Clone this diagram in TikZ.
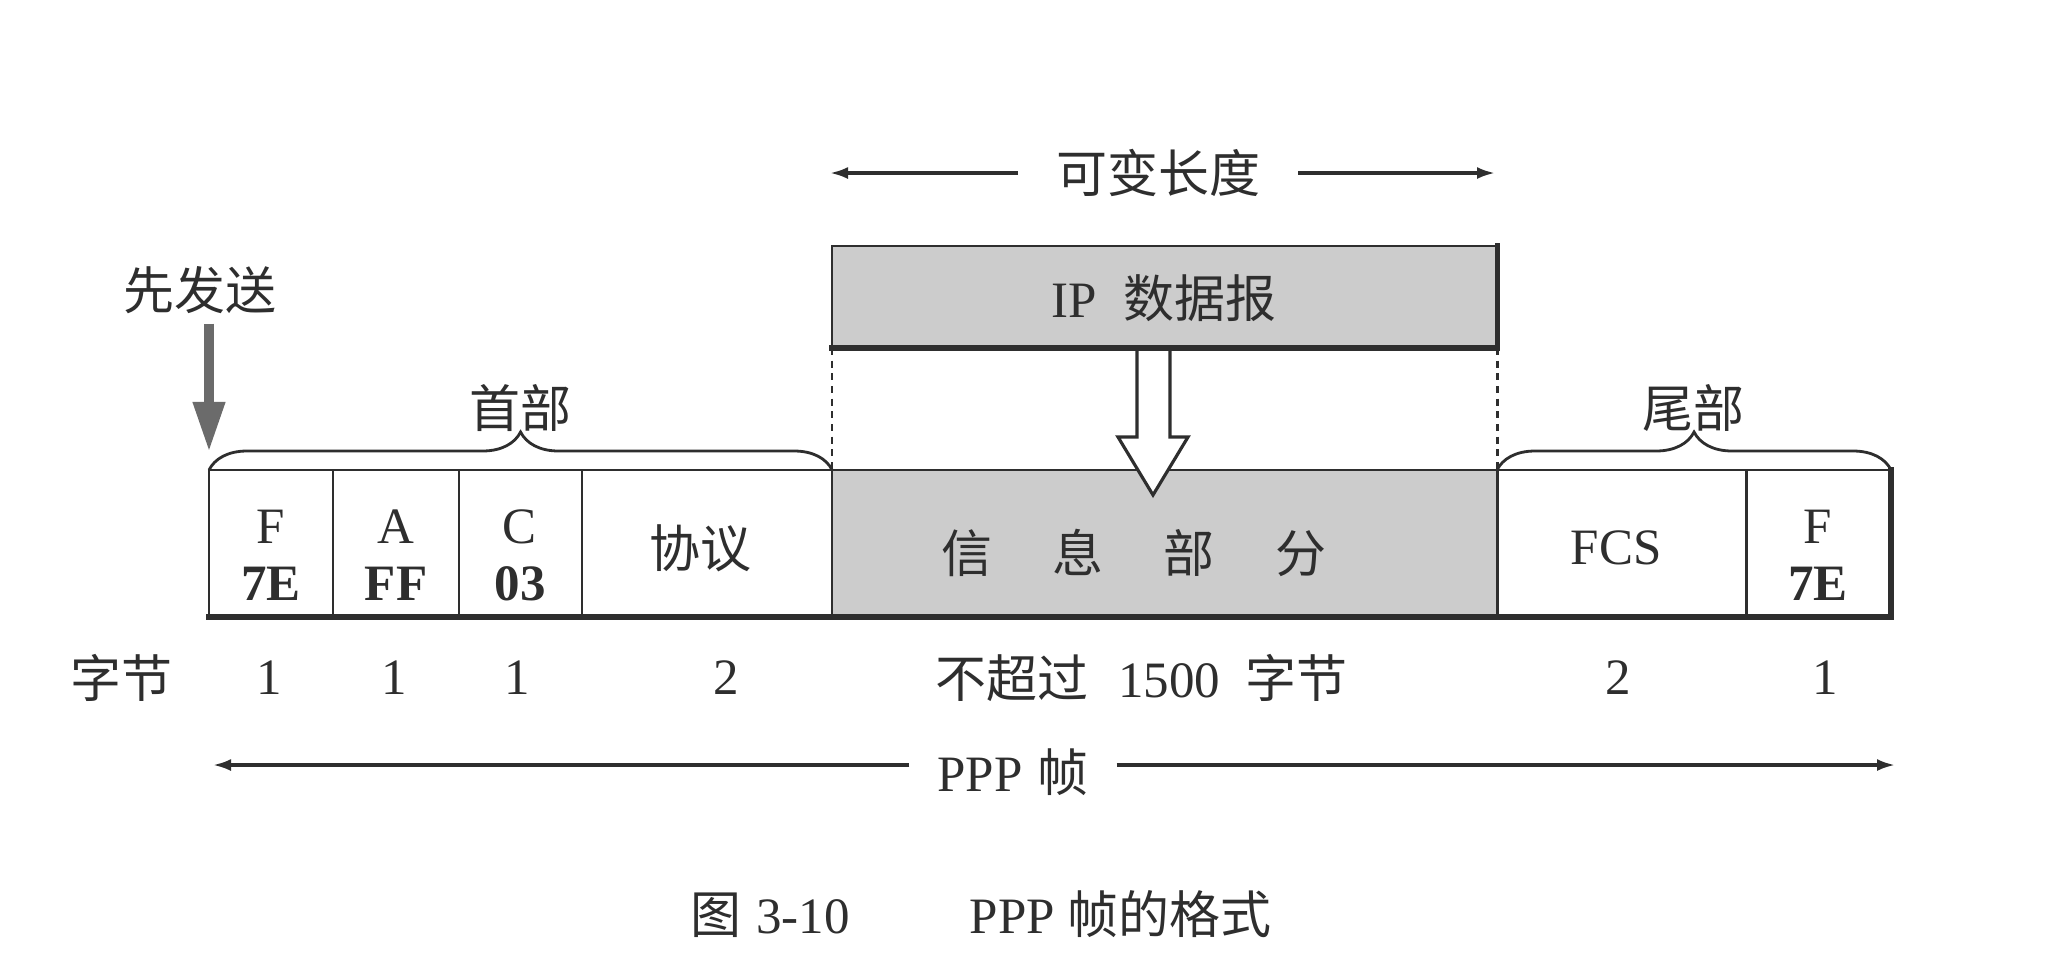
\documentclass[tikz,border=0pt]{standalone}
\usepackage{fontspec}
\setmainfont{Liberation Serif}
\newfontfamily\cjk{Noto Sans CJK SC}
\usetikzlibrary{arrows.meta,decorations.pathreplacing,calc}
\definecolor{ink}{gray}{0.18}
\definecolor{panel}{gray}{0.80}
\definecolor{sendgray}{gray}{0.42}
\begin{document}
\begin{tikzpicture}[x=0.01cm,y=-0.01cm,
  every node/.style={text=ink, font=\fontsize{14.5}{17}\selectfont, inner sep=0pt, outer sep=0pt},
  framecell/.style={draw=ink, line width=0.8pt, minimum height=1.47cm, anchor=north west},
  shaded/.style={fill=panel},
  thinarrow/.style={draw=ink, line width=0.9pt, -{Latex[length=0.18cm,width=0.12cm]}},
  bracestyle/.style={draw=ink, line width=0.8pt, decorate, decoration={brace, amplitude=0.38cm}},
  guide/.style={draw=ink, line width=0.8pt, dash pattern=on 2pt off 1.6pt},
  shadowline/.style={draw=ink, line width=1.5pt, line cap=rect},
]
\useasboundingbox (0,0) rectangle (2048,959);

% frame cells
\node[framecell, minimum width=1.24cm] (f1) at (209,470) {};
\node[framecell, minimum width=1.26cm] (f2) at (333,470) {};
\node[framecell, minimum width=1.23cm] (f3) at (459,470) {};
\node[framecell, minimum width=2.50cm] (f4) at (582,470) {};
\node[framecell, shaded, minimum width=6.65cm] (info) at (832,470) {};
\node[framecell, minimum width=2.49cm] (fcs) at (1497,470) {};
\node[framecell, minimum width=1.45cm] (f7) at (1746,470) {};
\draw[shadowline] (f1.south west) -- (f7.south east) -- (f7.north east);

% IP datagram box
\node[framecell, shaded, minimum width=6.65cm, minimum height=1.02cm] (ip) at (832,246) {};
\draw[shadowline] (ip.south west) -- (ip.south east) -- (ip.north east);
\node (iptext) at (1164,298) {IP\hspace{0.26cm}{\cjk 数据报}};

% dashed guides
\draw[guide] (ip.south west) -- (info.north west);
\draw[guide] (ip.south east) -- (info.north east);

% hollow arrow into the information field
\draw[draw=ink, line width=0.9pt, fill=white, line join=miter]
  (1137,351) -- (1137,437) -- (1118,437) -- (1153,495) -- (1188,437) -- (1170,437) -- (1170,351);

% braces
\draw[bracestyle] (f1.north west) -- (f4.north east);
\draw[bracestyle] (fcs.north west) -- (f7.north east);
\node (hdr) at (520,408) {\cjk 首部};
\node (trl) at (1693,408) {\cjk 尾部};

% variable length
\node[inner xsep=0.38cm] (vlen) at (1158,173) {\cjk 可变长度};
\coordinate (vlenL) at (830,173);
\coordinate (vlenR) at (1495,173);
\draw[thinarrow] (vlen.west) -- (vlenL);
\draw[thinarrow] (vlen.east) -- (vlenR);

% sent first
\node[inner ysep=0.1cm] (first) at (200,290) {\cjk 先发送};
\coordinate (sendtip) at (209,452);
\draw[draw=sendgray, line width=2.8pt, -{Triangle[length=0.5cm,width=0.3cm]}] (first.south -| sendtip) -- (sendtip);

% field texts
\node (tF1) at (271,527) {F};
\node (tB1) at (271,584) {\textbf{7E}};
\node (tA) at (396,527) {A};
\node (tB2) at (396,584) {\textbf{FF}};
\node (tC) at (520,527) {C};
\node (tB3) at (520,584) {\textbf{03}};
\node (tProto) at (700,548) {\cjk 协议};
\node (tInfo) at (1134,553) {\cjk 信\hspace{0.6cm}息\hspace{0.6cm}部\hspace{0.6cm}分};
\node (tFCS) at (1616,548) {FCS};
\node (tF7) at (1818,527) {F};
\node (tB7) at (1818,584) {\textbf{7E}};

% byte counts
\node (bytes) at (121,678) {\cjk 字节};
\node (n1) at (269,678) {1};
\node (n2) at (394,678) {1};
\node (n3) at (517,678) {1};
\node (n4) at (726,678) {2};
\node (nInfo) at (1141,678) {{\cjk 不超过}\hspace{0.3cm}1500\hspace{0.25cm}{\cjk 字节}};
\node (n6) at (1618,678) {2};
\node (n7) at (1825,678) {1};

% PPP frame span
\node[inner xsep=0.28cm] (ppp) at (1013,772) {PPP\hspace{0.15cm}{\cjk 帧}};
\coordinate (pppL) at (213,765);
\coordinate (pppR) at (1895,765);
\draw[thinarrow] (ppp.west |- pppL) -- (pppL);
\draw[thinarrow] (ppp.east |- pppR) -- (pppR);

% caption
\node (cap) at (981,914) {{\cjk 图}\hspace{0.15cm}3-10\hspace{1.2cm}PPP\hspace{0.13cm}{\cjk 帧的格式}};
\end{tikzpicture}
\end{document}
